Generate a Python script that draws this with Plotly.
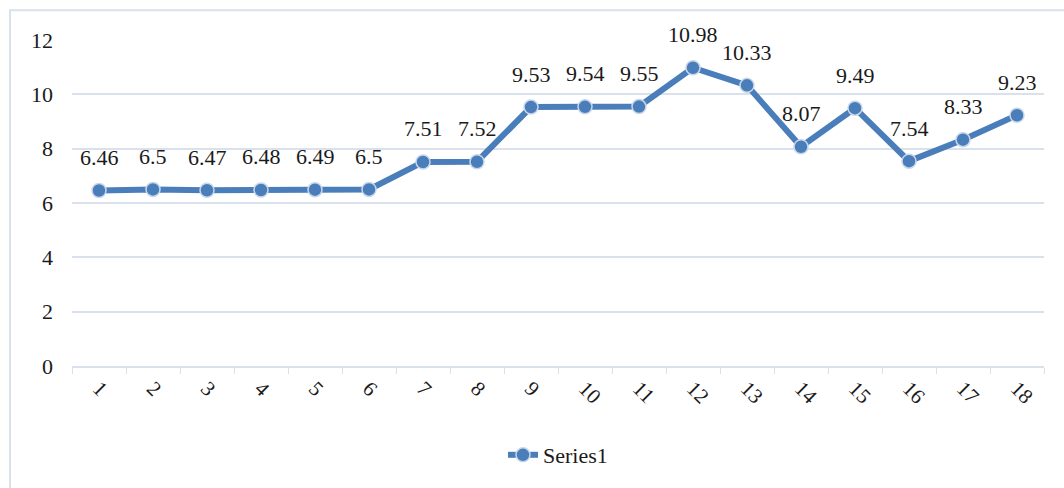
import plotly.graph_objects as go

categories = [str(i) for i in range(1, 19)]
values = [6.46, 6.5, 6.47, 6.48, 6.49, 6.5, 7.51, 7.52, 9.53, 9.54, 9.55,
          10.98, 10.33, 8.07, 9.49, 7.54, 8.33, 9.23]
labels = ["6.46", "6.5", "6.47", "6.48", "6.49", "6.5", "7.51", "7.52", "9.53",
          "9.54", "9.55", "10.98", "10.33", "8.07", "9.49", "7.54", "8.33", "9.23"]
y_ticks = [0, 2, 4, 6, 8, 10, 12]

BLUE = "#4A7EBB"
GRID = "#D9E1EC"
FONT = "Liberation Serif, Times New Roman, serif"

fig = go.Figure()
fig.add_trace(go.Scatter(
    x=categories, y=values, mode="lines+markers", name="Series1",
    line=dict(color=BLUE, width=6),
    marker=dict(size=14, color=BLUE, line=dict(color="#C9D7EA", width=1.5)),
))

for i, (v, t) in enumerate(zip(values, labels)):
    fig.add_annotation(x=i, y=v, text=t, showarrow=False, yshift=33,
                       font=dict(family=FONT, size=22, color="#1a1a1a"))

fig.add_shape(type="rect", xref="paper", yref="paper",
              x0=-0.0638, y0=-0.6, x1=1.2, y1=1.0909,
              line=dict(color=GRID, width=2), fillcolor="rgba(0,0,0,0)", layer="below")

fig.update_layout(
    width=1064, height=488,
    margin=dict(l=72, r=20, t=40, b=118),
    paper_bgcolor="white", plot_bgcolor="white",
    font=dict(family=FONT, size=22, color="#1a1a1a"),
    showlegend=True,
    legend=dict(orientation="h", x=0.5, xanchor="center", y=-0.273, yanchor="middle",
                font=dict(family=FONT, size=22, color="#1a1a1a")),
    xaxis=dict(type="category", range=[-0.5, len(categories) - 0.5],
               tickangle=45, tickson="boundaries",
               ticks="outside", ticklen=6, tickcolor=GRID,
               showline=True, linecolor=GRID, linewidth=2,
               showgrid=False, zeroline=False,
               tickfont=dict(family=FONT, size=21, color="#1a1a1a")),
    yaxis=dict(range=[0, 12], tickvals=y_ticks, showgrid=True, gridcolor=GRID, gridwidth=1.5,
               zeroline=False, showline=False, ticks="", ticklabelstandoff=18,
               tickfont=dict(family=FONT, size=22, color="#1a1a1a")),
)

fig.write_html("out.html")
